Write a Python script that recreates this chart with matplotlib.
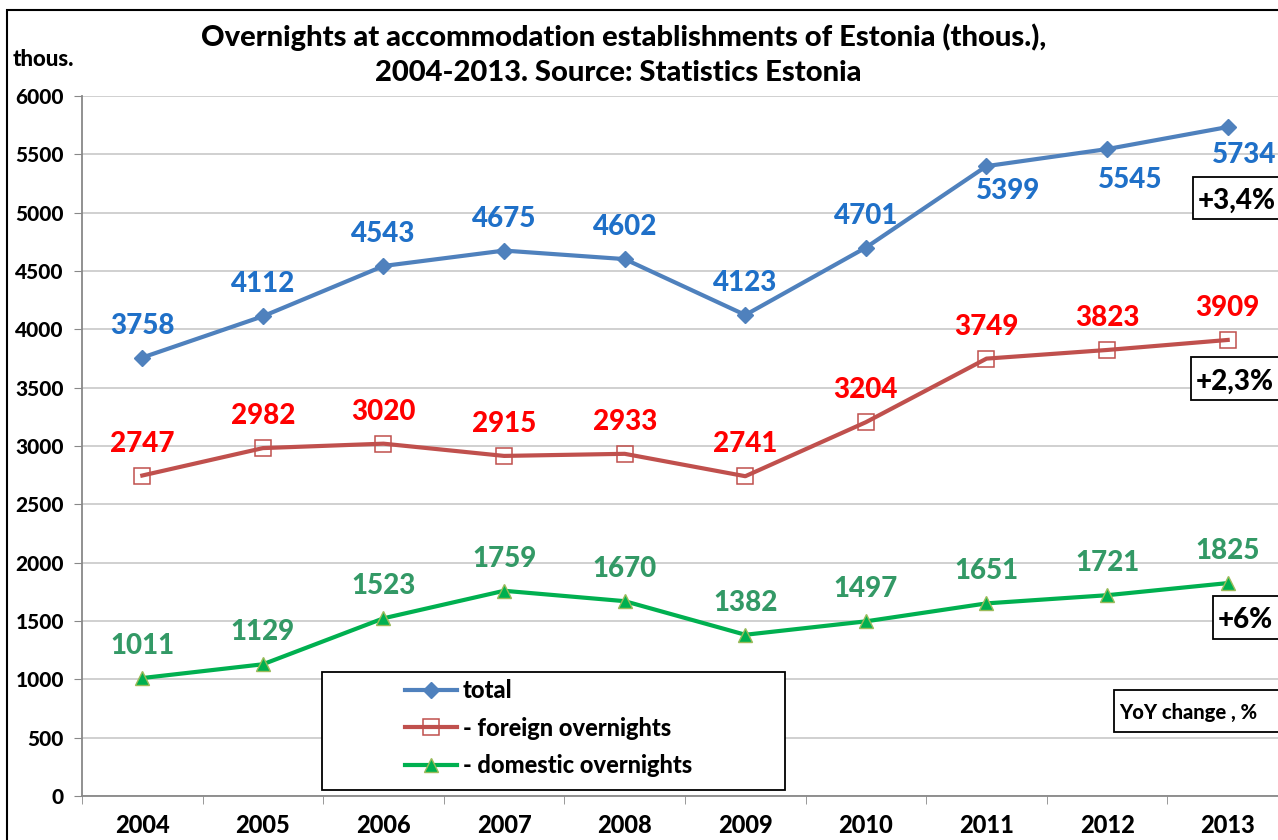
import matplotlib.pyplot as plt
from matplotlib.patches import Rectangle
from matplotlib.lines import Line2D

years = ["2004", "2005", "2006", "2007", "2008", "2009", "2010", "2011", "2012", "2013"]
total = [3758, 4112, 4543, 4675, 4602, 4123, 4701, 5399, 5545, 5734]
foreign = [2747, 2982, 3020, 2915, 2933, 2741, 3204, 3749, 3823, 3909]
domestic = [1011, 1129, 1523, 1759, 1670, 1382, 1497, 1651, 1721, 1825]
yoy_labels = ["+3,4%", "+2,3%", "+6%"]

W, H = 1278, 840
WT = 900  # heavy text


def fx(p):
    return p / W


def fy(p):
    return 1 - p / H


plt.rcParams['font.family'] = ['Lato', 'DejaVu Sans']

fig = plt.figure(figsize=(W / 100, H / 100), dpi=100)
ax = fig.add_axes([fx(82), 44 / H, 1206 / W, 700 / H])

x = list(range(len(years)))
st_total = dict(color="#4F81BD", lw=3, marker="D", ms=8, mfc="#4F81BD", mec="#4F81BD")
st_foreign = dict(color="#C0504D", lw=3, marker="s", ms=11.5, mfc="none", mec="#C0504D", mew=1.1)
st_domestic = dict(color="#00B050", lw=3, marker="^", ms=10, mfc="#00B050", mec="#9BBB59", mew=1)
ax.plot(x, total, zorder=3, **st_total)
ax.plot(x, foreign, zorder=3, **st_foreign)
ax.plot(x, domestic, zorder=3, **st_domestic)

px = 0.72
lab_fs = 20
for i, v in enumerate(total):
    dx, dy = 0, 32
    if i == 7:
        dx, dy = 22, -25
    elif i == 8:
        dx, dy = 23, -31
    elif i == 9:
        dx, dy = 16, -28
    ax.annotate(str(v), (i, v), xytext=(dx * px, dy * px), textcoords="offset points",
                ha="center", va="center", fontsize=lab_fs, fontweight=WT, color="#1F70C8")
for i, v in enumerate(foreign):
    ax.annotate(str(v), (i, v), xytext=(0, 32 * px), textcoords="offset points",
                ha="center", va="center", fontsize=lab_fs, fontweight=WT, color="#FF0000")
for i, v in enumerate(domestic):
    ax.annotate(str(v), (i, v), xytext=(0, 32 * px), textcoords="offset points",
                ha="center", va="center", fontsize=lab_fs, fontweight=WT, color="#339966")

ax.set_xlim(-0.5, 9.5)
ax.set_ylim(0, 6000)
ax.set_yticks(range(0, 6001, 500))
ax.set_xticks(x)
ax.set_xticklabels(years, fontsize=17, fontweight=WT)
ax.set_xticks([i - 0.5 for i in range(11)], minor=True)
ax.tick_params(axis="x", which="major", length=0, pad=13)
ax.tick_params(axis="x", which="minor", length=6, color="#888888", direction="out")
ax.tick_params(axis="y", length=6, color="#888888", labelsize=15, pad=7)
for lab in ax.get_yticklabels():
    lab.set_fontweight(WT)
ax.grid(axis="y", color="#C8C8C8", lw=1.2)
ax.set_axisbelow(True)
for s in ["top", "right"]:
    ax.spines[s].set_visible(False)
for s in ["left", "bottom"]:
    ax.spines[s].set_color("#888888")
    ax.spines[s].set_linewidth(1.3)

fig.text(fx(624), fy(37), "Overnights at accommodation establishments of Estonia (thous.),",
         ha="center", va="center", fontsize=21, fontweight=WT)
fig.text(fx(618), fy(73), "2004-2013. Source: Statistics Estonia",
         ha="center", va="center", fontsize=21, fontweight=WT)
fig.text(fx(13), fy(60), "thous.", ha="left", va="center", fontsize=16, fontweight=WT)

# legend: frame drawn separately, entries without frame
fig.patches.append(Rectangle((fx(322), fy(790)), fx(785) - fx(322), (790 - 672) / H,
                             transform=fig.transFigure, fc="white", ec="black", lw=1.3, zorder=5))
handles = [Line2D([], [], **st_total), Line2D([], [], **st_foreign), Line2D([], [], **st_domestic)]
leg = fig.legend(handles, ["total", "- foreign overnights", "- domestic overnights"],
                 loc="upper left", bbox_to_anchor=(fx(398), fy(672)),
                 prop={"size": 17, "weight": WT}, frameon=False, borderpad=0.3,
                 labelspacing=0.62, handlelength=2.2, handletextpad=0.25, borderaxespad=0)
leg.set_zorder(6)

# YoY boxes
boxes = [(1193, 177, 1290, 219), (1191, 357, 1290, 400), (1213, 596, 1290, 639)]
for (x0, y0, x1, y1), t in zip(boxes, yoy_labels):
    fig.patches.append(Rectangle((fx(x0), fy(y1)), fx(x1) - fx(x0), (y1 - y0) / H,
                                 transform=fig.transFigure, fc="white", ec="black", lw=1.3, zorder=5))
    fig.text(fx(x0 + 5), fy((y0 + y1) / 2 + 3), t, ha="left", va="center", fontsize=20,
             fontweight=WT, zorder=6)
fig.patches.append(Rectangle((fx(1114), fy(732)), fx(1290) - fx(1114), (732 - 690) / H,
                             transform=fig.transFigure, fc="white", ec="black", lw=1.3, zorder=5))
fig.text(fx(1119), fy(712), "YoY change , %", ha="left", va="center", fontsize=14.5,
         fontweight=WT, zorder=6)

fig.patches.append(Rectangle((fx(7), -0.1), 2, fy(10) + 0.1, transform=fig.transFigure,
                             fill=False, ec="black", lw=1.5))

fig.savefig("out.png", dpi=100)
